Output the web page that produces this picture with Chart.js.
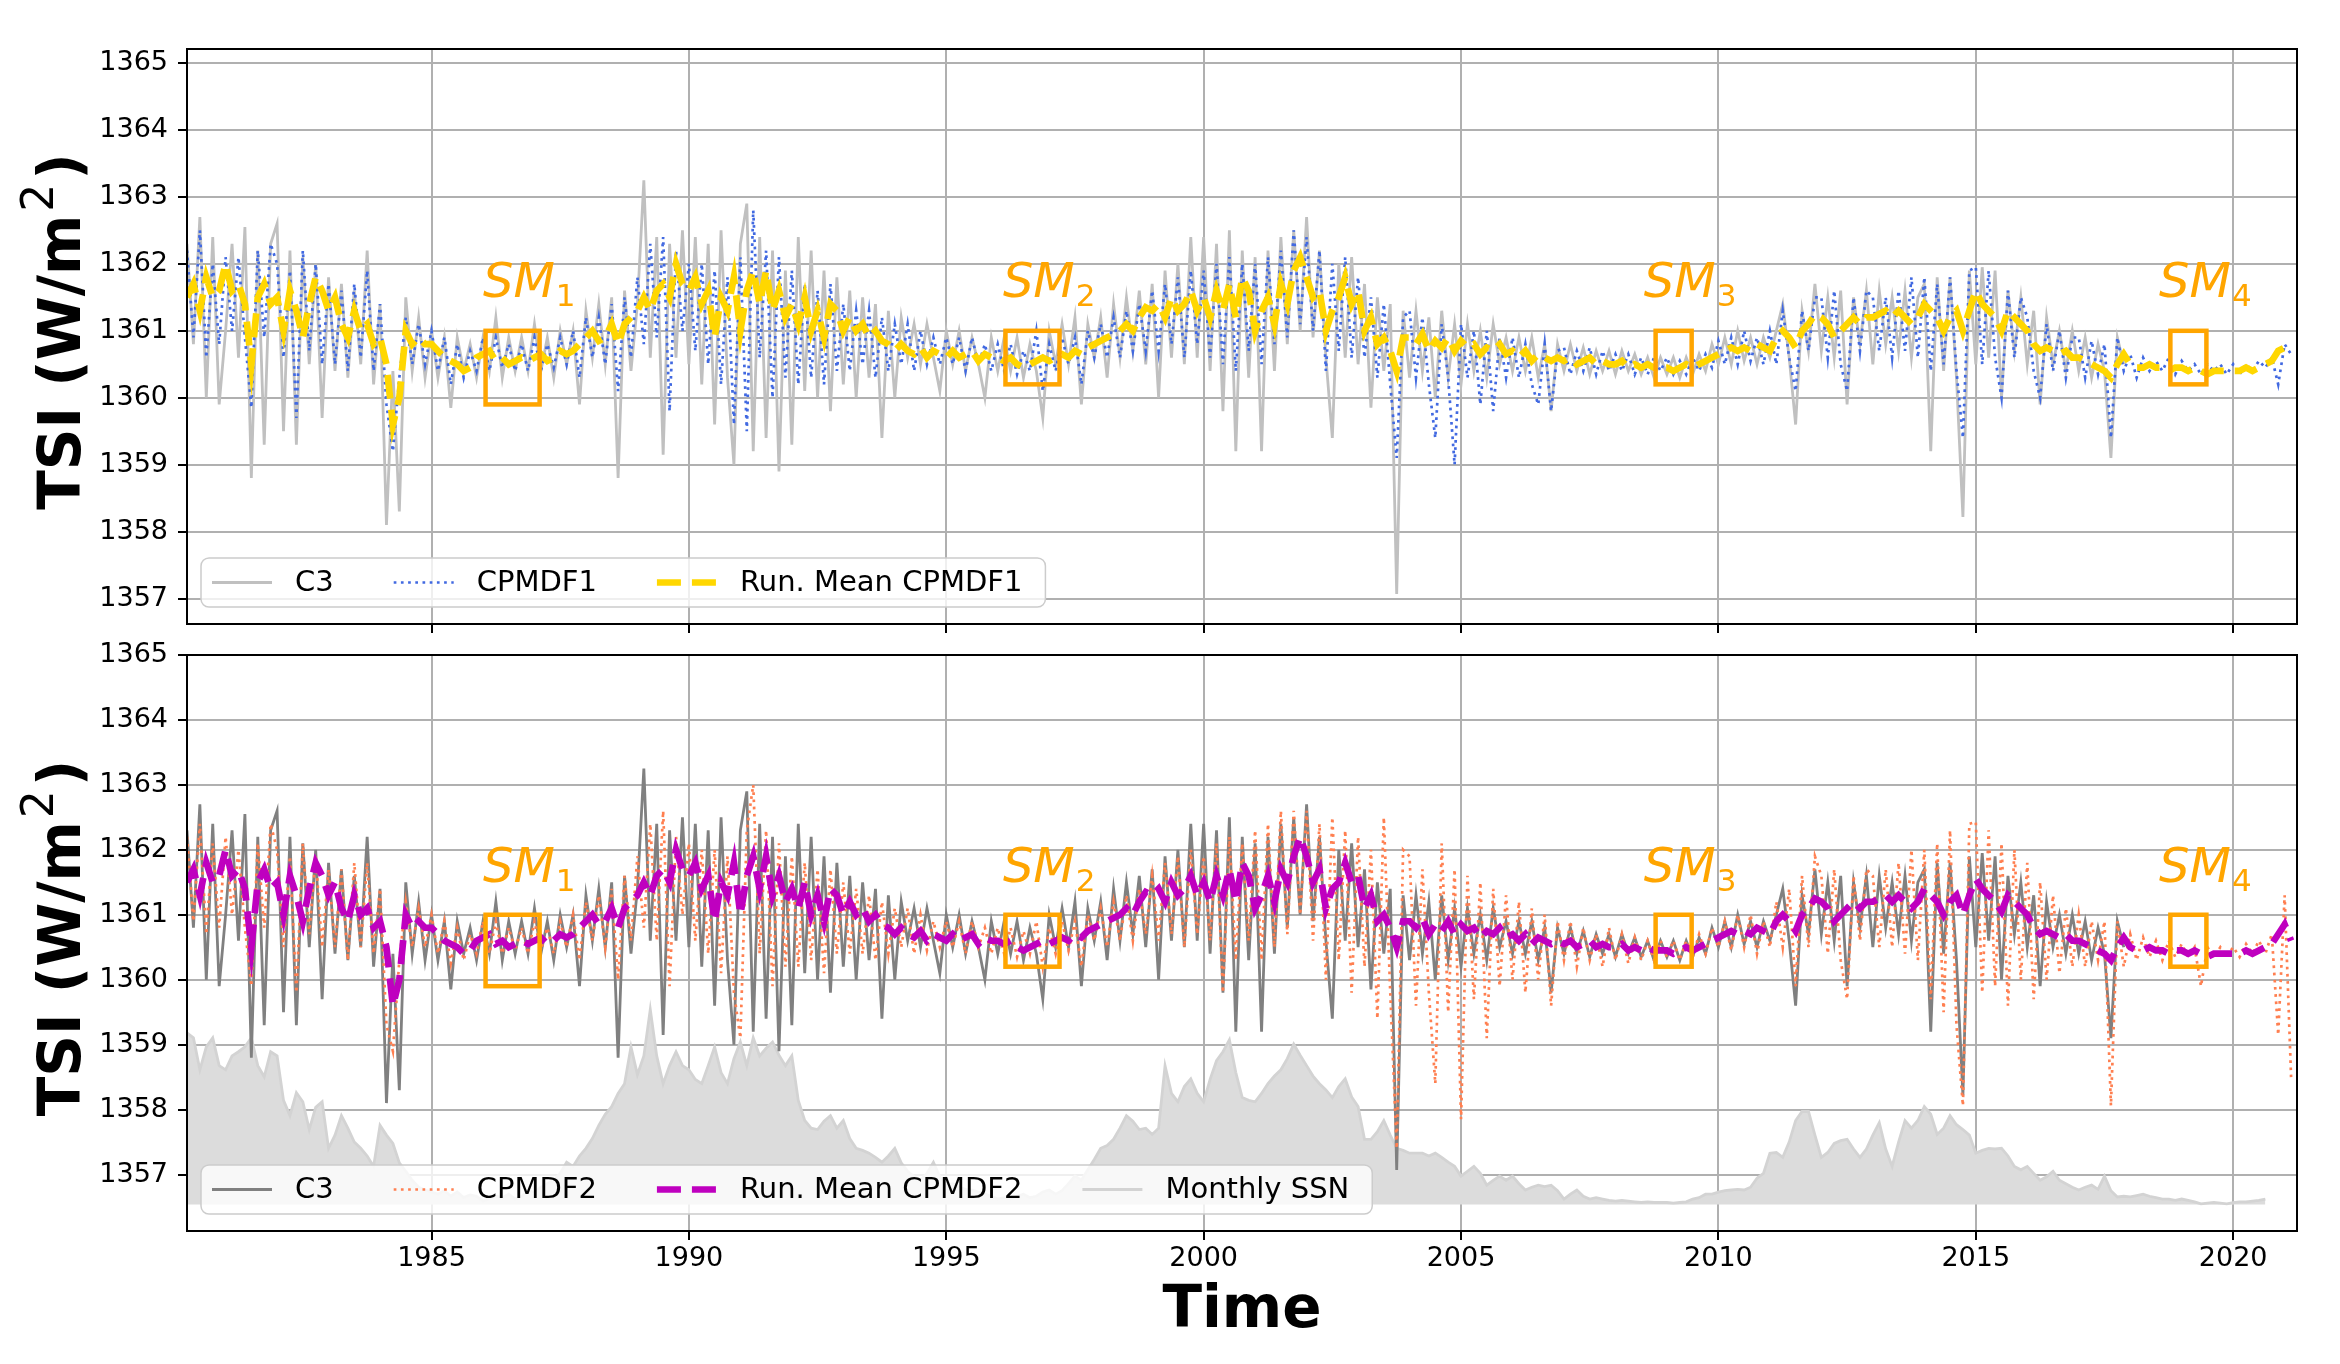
<!DOCTYPE html>
<html>
<head>
<meta charset="utf-8">
<script src="https://cdn.jsdelivr.net/npm/chart.js@4.4.1/dist/chart.umd.min.js"></script>
<style>
  html, body { margin: 0; padding: 0; background: #fff; }
  #wrap { position: relative; width: 2340px; height: 1364px; }
  .panel { position: absolute; left: 0; width: 2340px; }
</style>
</head>
<body>
<div id="wrap">
  <div class="panel" style="top:0;height:649px"><canvas id="topChart"></canvas></div>
  <div class="panel" style="top:630px;height:734px"><canvas id="botChart"></canvas></div>
</div>
<script>
// sampling grid: 8 samples per year from 1980.25
const t0 = 1980.25, dt = 0.125;

const xTicks = [1985, 1990, 1995, 2000, 2005, 2010, 2015, 2020];
const yTicks = [1357, 1358, 1359, 1360, 1361, 1362, 1363, 1364, 1365];

// C3 composite (ends late 2017)
const c3 = [
  1362.3, 1360.8, 1362.7, 1360.0, 1362.4, 1359.9,
  1361.0, 1362.3, 1360.6, 1362.55, 1358.8, 1362.2, 1359.3, 1362.3,
  1362.6, 1359.5, 1362.2, 1359.3, 1362.1, 1360.5, 1362.0, 1359.7,
  1361.8, 1360.4, 1361.7, 1360.3, 1361.6, 1360.5, 1362.2, 1360.2,
  1361.4, 1358.1, 1360.4, 1358.3, 1361.5, 1360.4, 1361.2, 1360.3,
  1361.0, 1360.3, 1360.9, 1359.85, 1360.9, 1360.4, 1360.8, 1360.3,
  1360.9, 1360.4, 1361.2, 1360.3, 1360.9, 1360.4, 1360.9, 1360.4,
  1361.1, 1360.4, 1360.9, 1360.3, 1361.0, 1360.5, 1361.0, 1359.9,
  1361.3, 1360.6, 1361.4, 1360.5, 1361.5, 1358.8, 1361.6, 1360.4,
  1361.4, 1363.25, 1360.6, 1362.4, 1359.15, 1362.3, 1360.6, 1362.5,
  1360.5, 1362.4, 1360.2, 1362.3, 1359.6, 1362.5, 1360.3, 1359.0,
  1362.3, 1362.9, 1359.2, 1362.4, 1359.4, 1362.2, 1358.9, 1361.9,
  1359.3, 1362.4, 1360.1, 1362.2, 1360.0, 1361.9, 1359.8, 1361.8,
  1360.2, 1361.6, 1360.0, 1361.5, 1360.3, 1361.4, 1359.4, 1361.3,
  1360.0, 1361.2, 1360.6, 1361.1, 1360.5, 1361.1, 1360.6, 1360.1,
  1361.0, 1360.5, 1361.0, 1360.4, 1360.9, 1360.5, 1360.0, 1360.9,
  1360.4, 1360.9, 1360.4, 1360.9, 1360.3, 1360.8, 1360.4, 1359.7,
  1361.0, 1360.5, 1361.1, 1360.5, 1361.2, 1359.9, 1361.1, 1360.6,
  1361.2, 1360.3, 1361.4, 1360.6, 1361.5, 1360.7, 1361.6, 1360.5,
  1361.7, 1360.0, 1361.9, 1360.6, 1362.0, 1360.5, 1362.4, 1360.6,
  1362.4, 1360.4, 1362.3, 1359.8, 1362.5, 1359.2, 1362.2, 1360.3,
  1362.1, 1359.2, 1362.2, 1360.4, 1362.4, 1360.8, 1362.5, 1361.0,
  1362.7, 1360.9, 1362.2, 1360.6, 1359.4, 1362.0, 1360.6, 1362.1,
  1360.5, 1361.7, 1359.85, 1361.5, 1360.4, 1361.4, 1357.07, 1361.3,
  1360.3, 1361.3, 1360.4, 1361.2, 1360.0, 1361.3, 1360.3, 1361.1,
  1360.2, 1361.1, 1360.4, 1361.0, 1360.3, 1361.1, 1360.5, 1360.9,
  1360.4, 1360.9, 1360.4, 1360.9, 1360.3, 1360.8, 1359.8, 1360.8,
  1360.4, 1360.8, 1360.4, 1360.75, 1360.35, 1360.7, 1360.4, 1360.7,
  1360.35, 1360.7, 1360.4, 1360.65, 1360.35, 1360.6, 1360.3, 1360.6,
  1360.35, 1360.6, 1360.3, 1360.6, 1360.35, 1360.65, 1360.4, 1360.8,
  1360.5, 1360.9, 1360.5, 1361.0, 1360.55, 1360.9, 1360.5, 1360.9,
  1360.6, 1361.0, 1361.4, 1360.6, 1359.6, 1361.3, 1360.7, 1361.7,
  1360.7, 1361.5, 1360.6, 1361.6, 1359.9, 1361.5, 1360.8, 1361.6,
  1360.5, 1361.6, 1360.8, 1361.5, 1360.7, 1361.6, 1360.6, 1361.5,
  1361.7, 1359.2, 1361.8, 1360.4, 1361.8, 1360.3, 1358.22, 1361.9,
  1360.5, 1361.95, 1360.6, 1361.9, 1360.0, 1361.6, 1360.7, 1361.5,
  1360.5, 1361.3, 1359.9, 1361.2, 1360.5, 1361.0, 1360.4, 1361.0,
  1360.4, 1360.9, 1360.3, 1360.8, 1360.4, 1359.1, 1360.9, 1360.5
];

const cpmdf1 = [
  1362.2, 1360.9, 1362.5, 1360.6, 1362.0, 1360.8,
  1362.1, 1361.0, 1362.1, 1360.9, 1359.85, 1362.2, 1360.9, 1362.3,
  1362.0, 1360.6, 1361.9, 1359.7, 1362.2, 1360.7, 1362.0, 1360.5,
  1361.7, 1360.5, 1361.6, 1360.4, 1361.7, 1360.6, 1361.9, 1360.4,
  1361.4, 1359.9, 1359.2, 1360.3, 1361.2, 1360.5, 1361.1, 1360.5,
  1361.0, 1360.4, 1360.9, 1360.2, 1360.8, 1360.3, 1360.7, 1360.4,
  1360.9, 1360.4, 1360.9, 1360.45, 1360.8, 1360.4, 1360.8, 1360.4,
  1360.9, 1360.4, 1360.8, 1360.45, 1360.9, 1360.5, 1361.0, 1360.3,
  1361.2, 1360.6, 1361.2, 1360.5, 1361.4, 1360.1, 1361.5, 1360.6,
  1361.8, 1360.8, 1362.3, 1360.9, 1362.4, 1359.8, 1362.2, 1361.0,
  1362.0, 1360.7, 1362.0, 1360.5, 1361.9, 1360.2, 1361.8, 1359.6,
  1362.1, 1359.5, 1362.8, 1360.6, 1362.2, 1360.0, 1362.1, 1360.3,
  1361.9, 1360.2, 1361.7, 1360.3, 1361.6, 1360.2, 1361.7, 1360.4,
  1361.4, 1360.4, 1361.3, 1360.5, 1361.3, 1360.3, 1361.2, 1360.4,
  1361.1, 1360.5, 1361.1, 1360.4, 1361.0, 1360.5, 1360.9, 1360.5,
  1360.9, 1360.5, 1360.9, 1360.4, 1360.9, 1360.5, 1360.8, 1360.4,
  1360.8, 1360.4, 1360.8, 1360.35, 1360.7, 1360.4, 1361.0, 1360.1,
  1360.8, 1360.4, 1360.9, 1360.5, 1360.9, 1360.2, 1361.0, 1360.6,
  1361.1, 1360.6, 1361.2, 1360.6, 1361.3, 1360.7, 1361.4, 1360.7,
  1361.6, 1360.7, 1361.7, 1360.8, 1361.8, 1360.6, 1361.9, 1360.8,
  1361.9, 1360.6, 1362.0, 1360.5, 1362.1, 1360.4, 1362.0, 1360.7,
  1362.0, 1360.5, 1362.1, 1360.8, 1362.2, 1360.9, 1362.5, 1361.1,
  1362.4, 1361.0, 1362.2, 1360.4, 1362.0, 1360.7, 1362.1, 1360.6,
  1361.8, 1360.6, 1361.5, 1360.3, 1361.4, 1360.2, 1359.1, 1361.2,
  1361.3, 1360.3, 1361.2, 1360.2, 1359.4, 1361.1, 1360.3, 1359.0,
  1361.1, 1360.3, 1361.0, 1359.9, 1361.0, 1359.8, 1360.9, 1360.3,
  1360.9, 1360.3, 1360.8, 1360.2, 1359.9, 1360.8, 1359.8, 1360.7,
  1360.75, 1360.35, 1360.7, 1360.4, 1360.75, 1360.35, 1360.7, 1360.4,
  1360.65, 1360.4, 1360.65, 1360.35, 1360.6, 1360.35, 1360.6, 1360.4,
  1360.6, 1360.35, 1360.55, 1360.35, 1360.6, 1360.4, 1360.65, 1360.45,
  1360.85, 1360.5, 1360.9, 1360.5, 1361.0, 1360.55, 1360.9, 1360.5,
  1361.0, 1360.5, 1361.3, 1360.6, 1360.1, 1361.3, 1360.7, 1361.5,
  1361.5, 1360.6, 1361.6, 1360.5, 1360.1, 1361.5, 1360.7, 1361.6,
  1361.5, 1360.7, 1361.5, 1360.6, 1361.6, 1360.7, 1361.8, 1360.6,
  1361.8, 1360.4, 1361.7, 1360.5, 1361.8, 1360.4, 1359.4, 1361.9,
  1361.95, 1360.5, 1361.9, 1360.6, 1360.0, 1361.6, 1360.6, 1361.5,
  1361.2, 1360.4, 1360.0, 1361.1, 1360.4, 1361.0, 1360.3, 1360.9,
  1360.9, 1360.3, 1360.85, 1360.35, 1360.8, 1359.4, 1360.9, 1360.4,
  1360.65, 1360.3, 1360.6, 1360.4, 1360.55, 1360.4, 1360.6, 1360.35,
  1360.55, 1360.4, 1360.5, 1360.35, 1360.5, 1360.4, 1360.5, 1360.35,
  1360.5, 1360.35, 1360.5, 1360.4, 1360.55, 1360.45, 1360.6, 1360.2,
  1360.8, 1360.65
];

const runMean1 = [
  1361.5, 1361.7, 1361.3, 1361.8, 1361.5, 1361.6,
  1362.0, 1361.6, 1361.7, 1361.4, 1360.5, 1361.5, 1361.7, 1361.4,
  1361.5, 1361.0, 1361.6, 1361.3, 1360.9, 1361.4, 1361.8, 1361.6,
  1361.3, 1361.5, 1361.1, 1360.9, 1361.3, 1361.0, 1361.1, 1360.8,
  1360.9, 1360.5, 1359.6, 1360.0, 1361.0, 1360.8, 1360.9, 1360.8,
  1360.8, 1360.7, 1360.6, 1360.55, 1360.5, 1360.4, 1360.45, 1360.6,
  1360.65, 1360.7, 1360.55, 1360.6, 1360.5, 1360.55, 1360.6, 1360.55,
  1360.6, 1360.65, 1360.55, 1360.6, 1360.7, 1360.65, 1360.7, 1360.8,
  1360.9, 1361.0, 1360.85, 1360.9, 1361.1, 1360.8, 1361.1, 1361.2,
  1361.3, 1361.5, 1361.3, 1361.6, 1361.7, 1361.5, 1362.0, 1361.7,
  1361.6, 1361.8, 1361.4, 1361.6, 1360.9, 1361.5, 1361.3, 1361.8,
  1361.0, 1361.6, 1361.9, 1361.4, 1361.9, 1361.3, 1361.6, 1361.2,
  1361.4, 1361.1, 1361.5, 1361.0, 1361.3, 1360.9, 1361.4, 1361.3,
  1361.0, 1361.2, 1361.0, 1361.1, 1360.9, 1361.0, 1360.85, 1360.8,
  1360.7, 1360.8, 1360.7, 1360.65, 1360.75, 1360.6, 1360.7, 1360.65,
  1360.6, 1360.7, 1360.6, 1360.65, 1360.7, 1360.55, 1360.65, 1360.6,
  1360.6, 1360.55, 1360.6, 1360.5, 1360.45, 1360.5, 1360.55, 1360.6,
  1360.55, 1360.6, 1360.65, 1360.6, 1360.7, 1360.65, 1360.75, 1360.8,
  1360.85, 1360.9, 1360.95, 1361.0, 1361.1, 1361.0, 1361.2, 1361.35,
  1361.3, 1361.4, 1361.2, 1361.5, 1361.3, 1361.4, 1361.6, 1361.3,
  1361.5, 1361.2, 1361.6, 1361.3, 1361.7, 1361.2, 1361.8, 1361.6,
  1361.0, 1361.3, 1361.5, 1361.1, 1361.7, 1361.4, 1361.9, 1362.1,
  1361.8, 1361.5, 1361.6, 1361.0, 1361.3, 1361.5, 1361.8, 1361.4,
  1361.6, 1361.0, 1361.2, 1360.8, 1360.9, 1360.7, 1360.4, 1360.9,
  1360.9, 1360.8, 1360.95, 1360.7, 1360.85, 1360.75, 1360.9, 1360.7,
  1360.85, 1360.75, 1360.8, 1360.65, 1360.75, 1360.7, 1360.8, 1360.65,
  1360.7, 1360.6, 1360.7, 1360.55, 1360.65, 1360.6, 1360.55, 1360.6,
  1360.55, 1360.6, 1360.5, 1360.55, 1360.6, 1360.5, 1360.55, 1360.5,
  1360.5, 1360.55, 1360.45, 1360.5, 1360.45, 1360.5, 1360.45, 1360.45,
  1360.45, 1360.4, 1360.45, 1360.5, 1360.45, 1360.5, 1360.55, 1360.6,
  1360.65, 1360.7, 1360.75, 1360.7, 1360.75, 1360.7, 1360.8, 1360.75,
  1360.7, 1360.9, 1361.0, 1360.9, 1360.75, 1361.0, 1361.1, 1361.25,
  1361.2, 1361.1, 1360.9, 1361.0, 1361.1, 1361.2, 1361.1, 1361.2,
  1361.2, 1361.25, 1361.3, 1361.2, 1361.3, 1361.2, 1361.1, 1361.2,
  1361.4, 1361.3, 1361.2, 1361.0, 1361.2, 1361.3, 1361.0, 1361.3,
  1361.6, 1361.4, 1361.3, 1361.2, 1361.0, 1361.3, 1361.2, 1361.1,
  1361.0, 1360.8, 1360.7, 1360.75, 1360.7, 1360.65, 1360.7, 1360.6,
  1360.6, 1360.55, 1360.5, 1360.45, 1360.4, 1360.3, 1360.5, 1360.65,
  1360.5, 1360.45, 1360.45, 1360.5, 1360.45, 1360.45, 1360.4, 1360.45,
  1360.45, 1360.4, 1360.45, 1360.4, 1360.35, 1360.4, 1360.4, 1360.4,
  1360.4, 1360.4, 1360.45, 1360.4, 1360.45, 1360.5, 1360.55, 1360.7,
  1360.75, 1360.65
];

const cpmdf2 = [
  1362.2, 1360.9, 1362.4, 1360.7, 1362.1, 1360.8,
  1362.2, 1361.0, 1362.0, 1360.8, 1359.9, 1362.1, 1360.8, 1362.4,
  1362.0, 1360.5, 1361.9, 1359.8, 1362.1, 1360.7, 1361.9, 1360.5,
  1361.7, 1360.5, 1361.7, 1360.3, 1361.8, 1360.5, 1361.8, 1360.4,
  1361.4, 1359.3, 1358.9, 1360.3, 1361.2, 1360.5, 1361.1, 1360.5,
  1361.0, 1360.4, 1360.9, 1360.25, 1360.8, 1360.3, 1360.7, 1360.4,
  1360.9, 1360.4, 1360.9, 1360.4, 1360.8, 1360.45, 1360.8, 1360.4,
  1360.9, 1360.45, 1360.8, 1360.4, 1360.9, 1360.5, 1361.0, 1360.3,
  1361.2, 1360.6, 1361.3, 1360.5, 1361.4, 1360.0, 1361.6, 1360.6,
  1361.9, 1360.8, 1362.4, 1360.6, 1362.6, 1359.9, 1362.2, 1361.0,
  1362.1, 1360.6, 1362.0, 1360.4, 1362.0, 1360.1, 1361.9, 1359.8,
  1359.1, 1362.3, 1363.0, 1360.4, 1362.3, 1359.9, 1362.1, 1360.2,
  1361.9, 1360.2, 1361.8, 1360.3, 1361.7, 1360.1, 1361.7, 1360.4,
  1361.5, 1360.4, 1361.4, 1360.4, 1361.3, 1360.3, 1361.2, 1360.4,
  1361.1, 1360.5, 1361.1, 1360.4, 1361.0, 1360.45, 1360.9, 1360.5,
  1360.9, 1360.5, 1360.9, 1360.4, 1360.9, 1360.5, 1360.8, 1360.4,
  1360.8, 1360.4, 1360.8, 1360.35, 1360.75, 1360.4, 1360.9, 1360.2,
  1360.8, 1360.4, 1360.9, 1360.45, 1360.9, 1360.2, 1361.0, 1360.6,
  1361.1, 1360.5, 1361.2, 1360.6, 1361.3, 1360.6, 1361.4, 1360.7,
  1361.6, 1360.6, 1361.8, 1360.7, 1361.9, 1360.5, 1362.0, 1360.7,
  1361.9, 1360.6, 1362.1, 1359.8, 1362.2, 1360.3, 1362.1, 1360.6,
  1362.3, 1360.3, 1362.4, 1360.5, 1362.6, 1360.7, 1362.6, 1361.0,
  1362.6, 1360.6, 1362.4, 1360.0, 1362.5, 1360.3, 1362.3, 1359.8,
  1362.2, 1360.2, 1362.0, 1359.4, 1362.5, 1359.8, 1357.4, 1362.0,
  1361.9, 1359.6, 1361.7, 1359.8, 1358.4, 1362.1, 1359.5, 1361.7,
  1357.85, 1361.6, 1359.7, 1361.5, 1359.1, 1361.4, 1359.9, 1361.3,
  1360.0, 1361.2, 1359.8, 1361.1, 1360.0, 1361.0, 1359.6, 1360.9,
  1360.3, 1360.9, 1360.2, 1360.8, 1360.3, 1360.7, 1360.2, 1360.8,
  1360.3, 1360.7, 1360.25, 1360.65, 1360.3, 1360.6, 1360.3, 1360.6,
  1360.35, 1360.6, 1360.3, 1360.6, 1360.35, 1360.7, 1360.4, 1360.8,
  1360.5, 1360.9, 1360.45, 1361.0, 1360.5, 1361.0, 1360.4, 1360.9,
  1360.5, 1361.2, 1360.5, 1361.4, 1359.9, 1361.6, 1360.5, 1361.9,
  1361.6, 1360.4, 1361.7, 1360.3, 1359.7, 1361.6, 1360.6, 1361.7,
  1361.6, 1360.5, 1361.7, 1360.5, 1361.8, 1360.4, 1362.0, 1360.3,
  1362.0, 1359.7, 1362.1, 1359.5, 1362.3, 1359.3, 1358.06, 1362.4,
  1362.43, 1359.8, 1362.3, 1359.9, 1362.1, 1359.6, 1362.0, 1360.0,
  1361.8, 1359.7, 1361.5, 1360.0, 1361.3, 1360.1, 1361.1, 1360.2,
  1361.0, 1360.2, 1360.9, 1360.3, 1360.9, 1358.06, 1360.9, 1360.2,
  1360.7, 1360.3, 1360.65, 1360.35, 1360.6, 1360.3, 1360.6, 1360.35,
  1360.55, 1360.35, 1360.5, 1359.9, 1360.5, 1360.35, 1360.5, 1360.35,
  1360.5, 1360.35, 1360.55, 1360.4, 1360.6, 1360.4, 1360.7, 1359.15,
  1361.3, 1358.5
];

const runMean2 = [
  1361.5, 1361.7, 1361.3, 1361.8, 1361.5, 1361.6,
  1362.0, 1361.6, 1361.7, 1361.4, 1360.5, 1361.5, 1361.7, 1361.4,
  1361.5, 1361.0, 1361.6, 1361.3, 1360.9, 1361.4, 1361.8, 1361.6,
  1361.3, 1361.5, 1361.1, 1360.9, 1361.3, 1361.0, 1361.1, 1360.8,
  1360.9, 1360.5, 1359.6, 1360.0, 1361.0, 1360.8, 1360.9, 1360.8,
  1360.8, 1360.7, 1360.6, 1360.55, 1360.5, 1360.4, 1360.45, 1360.6,
  1360.65, 1360.7, 1360.55, 1360.6, 1360.5, 1360.55, 1360.6, 1360.55,
  1360.6, 1360.65, 1360.55, 1360.6, 1360.7, 1360.65, 1360.7, 1360.8,
  1360.9, 1361.0, 1360.85, 1360.9, 1361.1, 1360.8, 1361.1, 1361.2,
  1361.3, 1361.5, 1361.3, 1361.6, 1361.7, 1361.5, 1362.0, 1361.7,
  1361.6, 1361.8, 1361.4, 1361.6, 1360.9, 1361.5, 1361.3, 1361.8,
  1361.0, 1361.6, 1361.9, 1361.4, 1361.9, 1361.3, 1361.6, 1361.2,
  1361.4, 1361.1, 1361.5, 1361.0, 1361.3, 1360.9, 1361.4, 1361.3,
  1361.0, 1361.2, 1361.0, 1361.1, 1360.9, 1361.0, 1360.85, 1360.8,
  1360.7, 1360.8, 1360.7, 1360.65, 1360.75, 1360.6, 1360.7, 1360.65,
  1360.6, 1360.7, 1360.6, 1360.65, 1360.7, 1360.55, 1360.65, 1360.6,
  1360.6, 1360.55, 1360.6, 1360.5, 1360.45, 1360.5, 1360.55, 1360.6,
  1360.55, 1360.6, 1360.65, 1360.6, 1360.7, 1360.65, 1360.75, 1360.8,
  1360.85, 1360.9, 1360.95, 1361.0, 1361.1, 1361.0, 1361.2, 1361.35,
  1361.3, 1361.4, 1361.2, 1361.5, 1361.3, 1361.4, 1361.6, 1361.3,
  1361.5, 1361.2, 1361.6, 1361.3, 1361.7, 1361.2, 1361.8, 1361.6,
  1361.1, 1361.3, 1361.6, 1361.2, 1361.7, 1361.5, 1361.9, 1362.2,
  1361.9, 1361.5, 1361.7, 1361.1, 1361.4, 1361.5, 1361.8, 1361.5,
  1361.6, 1361.1, 1361.3, 1360.9, 1361.0, 1360.8, 1360.5, 1360.9,
  1360.9, 1360.8, 1360.95, 1360.7, 1360.85, 1360.75, 1360.9, 1360.7,
  1360.85, 1360.75, 1360.8, 1360.65, 1360.75, 1360.7, 1360.8, 1360.65,
  1360.7, 1360.6, 1360.7, 1360.55, 1360.65, 1360.6, 1360.55, 1360.6,
  1360.55, 1360.6, 1360.5, 1360.55, 1360.6, 1360.5, 1360.55, 1360.5,
  1360.5, 1360.55, 1360.45, 1360.5, 1360.45, 1360.5, 1360.45, 1360.45,
  1360.45, 1360.4, 1360.45, 1360.5, 1360.45, 1360.5, 1360.55, 1360.6,
  1360.65, 1360.7, 1360.75, 1360.7, 1360.75, 1360.7, 1360.8, 1360.75,
  1360.7, 1360.9, 1361.0, 1360.9, 1360.75, 1361.0, 1361.1, 1361.25,
  1361.2, 1361.1, 1360.9, 1361.0, 1361.1, 1361.2, 1361.1, 1361.2,
  1361.2, 1361.25, 1361.3, 1361.2, 1361.3, 1361.2, 1361.1, 1361.2,
  1361.4, 1361.3, 1361.2, 1361.0, 1361.2, 1361.3, 1361.0, 1361.3,
  1361.55, 1361.4, 1361.3, 1361.2, 1361.05, 1361.3, 1361.2, 1361.1,
  1361.0, 1360.8, 1360.7, 1360.75, 1360.7, 1360.65, 1360.7, 1360.6,
  1360.6, 1360.55, 1360.5, 1360.45, 1360.4, 1360.3, 1360.5, 1360.65,
  1360.5, 1360.45, 1360.45, 1360.5, 1360.45, 1360.45, 1360.4, 1360.45,
  1360.45, 1360.4, 1360.45, 1360.4, 1360.35, 1360.4, 1360.4, 1360.4,
  1360.4, 1360.4, 1360.45, 1360.4, 1360.45, 1360.5, 1360.55, 1360.7,
  1360.85, 1360.6
];

// monthly sunspot number (ends mid 2020)
const ssn = [
  247, 240, 194, 227, 240, 200,
  194, 214, 220, 227, 240, 200, 184, 220,
  214, 150, 128, 161, 148, 108, 140, 148,
  81, 100, 128, 110, 90, 81, 70, 55,
  114, 100, 88, 60, 48, 35, 25, 21,
  18, 15, 20, 12, 18, 10, 14, 12,
  5, 8, 12, 10, 15, 8, 12, 20,
  18, 25, 30, 35, 45, 61, 55, 70,
  81, 95, 114, 130, 141, 160, 174, 227,
  187, 214, 281, 214, 174, 200, 220, 200,
  194, 180, 174, 200, 227, 190, 174, 210,
  234, 200, 240, 214, 225, 234, 215, 200,
  214, 150, 121, 110, 108, 120, 128, 110,
  121, 95, 81, 78, 74, 68, 61, 70,
  81, 60, 48, 40, 35, 45, 61, 40,
  28, 30, 25, 22, 21, 18, 15, 12,
  8, 10, 8, 12, 15, 10, 12, 18,
  21, 15, 20, 30, 41, 35, 50, 65,
  81, 85, 94, 110, 128, 120, 108, 110,
  101, 110, 200, 160, 148, 170, 181, 160,
  148, 180, 207, 220, 237, 190, 154, 150,
  148, 160, 174, 185, 194, 210, 231, 215,
  200, 185, 174, 165, 154, 170, 181, 155,
  141, 94, 94, 105, 121, 100, 81, 78,
  74, 74, 74, 70, 74, 68, 61, 55,
  41, 48, 55, 45, 28, 35, 41, 35,
  41, 30, 21, 25, 28, 26, 28, 20,
  8, 15, 21, 12, 8, 10, 8, 6,
  5, 6, 5, 4, 3, 4, 3, 3,
  3, 2, 3, 4, 8, 10, 15, 15,
  18, 20, 21, 22, 21, 25, 38, 45,
  74, 75, 68, 90, 121, 134, 134, 100,
  68, 75, 88, 92, 94, 80, 68, 80,
  100, 118, 80, 55, 90, 121, 110, 121,
  141, 130, 101, 110, 128, 115, 108, 100,
  74, 78, 81, 80, 81, 70, 55, 50,
  55, 45, 35, 40, 48, 35, 30, 25,
  21, 25, 28, 22, 41, 20, 11, 12,
  11, 13, 15, 12, 10, 8, 8, 6,
  8, 6, 4, 1, 2, 3, 2, 1,
  3, 4, 4, 5, 6, 8
];

// solar minimum boxes
const smSub = ['1', '2', '3', '4'];
const smX0 = [1986.05, 1996.15, 2008.78, 2018.78];
const smX1 = [1987.1, 1997.2, 2009.48, 2019.48];
const smLow = [1359.9, 1360.2, 1360.2, 1360.2];
const smHigh = [1361.0, 1361.0, 1361.0, 1361.0];
const smLabelX = [1986.0, 1996.1, 2008.55, 2018.56];
const smLabelY = 1361.5;

const FONT = '"DejaVu Sans", sans-serif';
Chart.defaults.font.family = FONT;
Chart.defaults.color = '#000';

const pts = arr => arr.map((v, i) => ({ x: t0 + i * dt, y: v }));

const frame = {
  id: 'frame',
  afterDatasetsDraw(chart) {
    const { ctx, chartArea: a } = chart;
    ctx.save();
    ctx.strokeStyle = '#000';
    ctx.lineWidth = 2;
    ctx.strokeRect(a.left, a.top, a.right - a.left, a.bottom - a.top);
    ctx.restore();
  }
};

// rotated y title with a real superscript, like matplotlib mathtext
const yTitle = {
  id: 'yTitle',
  afterDraw(chart) {
    const { ctx, chartArea: a } = chart;
    const main = 'TSI (W/m', sup = '2', close = ')';
    const bold = 'bold 58px ' + FONT, supFont = '44px ' + FONT;
    ctx.save();
    ctx.font = bold;
    const w1 = ctx.measureText(main).width, w3 = ctx.measureText(close).width;
    ctx.font = supFont;
    const w2 = ctx.measureText(sup).width;
    const total = w1 + 3 + w2 + 4 + w3;
    ctx.translate(80, (a.top + a.bottom) / 2 - 5);
    ctx.rotate(-Math.PI / 2);
    ctx.fillStyle = '#000';
    ctx.textAlign = 'left';
    ctx.textBaseline = 'alphabetic';
    let x = -total / 2;
    ctx.font = bold;
    ctx.fillText(main, x, 0);
    x += w1 + 3;
    ctx.font = supFont;
    ctx.fillText(sup, x, -27);
    x += w2 + 4;
    ctx.font = bold;
    ctx.fillText(close, x, 0);
    ctx.restore();
  }
};

const smMarks = {
  id: 'smMarks',
  afterDatasetsDraw(chart) {
    const { ctx } = chart;
    const xs = chart.scales.x, ys = chart.scales.y;
    ctx.save();
    ctx.strokeStyle = '#ffa500';
    ctx.fillStyle = '#ffa500';
    ctx.lineWidth = 4.5;
    smX0.forEach((x0, i) => {
      const l = xs.getPixelForValue(x0), r = xs.getPixelForValue(smX1[i]);
      const t = ys.getPixelForValue(smHigh[i]), b = ys.getPixelForValue(smLow[i]);
      ctx.strokeRect(l, t, r - l, b - t);
      const lx = xs.getPixelForValue(smLabelX[i]), ly = ys.getPixelForValue(smLabelY);
      ctx.textAlign = 'left';
      ctx.textBaseline = 'alphabetic';
      ctx.font = 'italic 48px ' + FONT;
      ctx.fillText('SM', lx, ly);
      const w = ctx.measureText('SM').width;
      ctx.font = '31px ' + FONT;
      ctx.fillText(smSub[i], lx + w + 1, ly + 9);
    });
    ctx.restore();
  }
};

const boxLegend = {
  id: 'boxLegend',
  afterDraw(chart) {
    const { ctx, chartArea: a } = chart;
    const sets = chart.data.datasets;
    ctx.save();
    ctx.font = '29px ' + FONT;
    const sample = 60, gap = 23, colGap = 60, padL = 11, padR = 23, h = 49;
    let w = padL + padR;
    sets.forEach((d, i) => {
      w += sample + gap + ctx.measureText(d.label).width + (i < sets.length - 1 ? colGap : 0);
    });
    const x = a.left + 14, y = a.bottom - 17 - h;
    ctx.beginPath();
    ctx.roundRect(x, y, w, h, 8);
    ctx.fillStyle = 'rgba(255,255,255,0.8)';
    ctx.fill();
    ctx.strokeStyle = '#cccccc';
    ctx.lineWidth = 1.5;
    ctx.stroke();
    let cx = x + padL;
    const cy = y + h / 2;
    sets.forEach(d => {
      ctx.beginPath();
      ctx.setLineDash(d.borderDash || []);
      ctx.lineCap = 'butt';
      ctx.strokeStyle = d.borderColor;
      ctx.lineWidth = d.borderWidth;
      ctx.moveTo(cx, cy);
      ctx.lineTo(cx + sample, cy);
      ctx.stroke();
      ctx.setLineDash([]);
      cx += sample + gap;
      ctx.fillStyle = '#000';
      ctx.textAlign = 'left';
      ctx.textBaseline = 'middle';
      ctx.fillText(d.label, cx, cy + 1);
      cx += ctx.measureText(d.label).width + colGap;
    });
    ctx.restore();
  }
};

function line(label, data, color, width, dash, order, extra) {
  return Object.assign({
    label, data: pts(data), borderColor: color, backgroundColor: color,
    borderWidth: width, borderDash: dash, borderCapStyle: 'butt',
    pointRadius: 0, tension: 0, fill: false, order, spanGaps: false
  }, extra || {});
}

function xScale(showLabels, h) {
  return {
    type: 'linear', min: 1980.25, max: 2021.24,
    afterBuildTicks: s => { s.ticks = xTicks.map(v => ({ value: v })); },
    afterFit: s => { s.height = h; },
    grid: { color: '#b0b0b0', lineWidth: 2, tickColor: '#000', tickLength: 9, tickWidth: 2 },
    border: { display: false },
    ticks: { display: showLabels, padding: 4, maxRotation: 0, font: { size: 27, lineHeight: 1.1 }, callback: v => String(v) },
    title: showLabels
      ? { display: true, text: 'Time', font: { size: 58, weight: 'bold' }, padding: { top: 0, bottom: 17 } }
      : { display: false }
  };
}

function yScale(min, max) {
  return {
    type: 'linear', position: 'left', min, max,
    afterBuildTicks: s => { s.ticks = yTicks.map(v => ({ value: v })); },
    afterFit: s => { s.width = 187; },
    grid: { color: '#b0b0b0', lineWidth: 2, tickColor: '#000', tickLength: 9, tickWidth: 2 },
    border: { display: false },
    ticks: { padding: 10, font: { size: 27, lineHeight: 1.1 }, callback: v => String(v) },
    title: { display: false }
  };
}

const common = {
  responsive: true, maintainAspectRatio: false, animation: false, devicePixelRatio: 1,
  events: [],
  plugins: { legend: { display: false }, tooltip: { enabled: false } }
};

new Chart(document.getElementById('topChart'), {
  type: 'line',
  data: {
    datasets: [
      line('C3', c3, '#c0c0c0', 2.8, [], 2),
      line('CPMDF1', cpmdf1, '#4169e1', 2.7, [2.7, 4.5], 1),
      line('Run. Mean CPMDF1', runMean1, '#ffd700', 6.7, [24, 11], 0)
    ]
  },
  options: Object.assign({}, common, {
    layout: { padding: { top: 49, right: 43, bottom: 0, left: 0 } },
    scales: { x: xScale(false, 25), y: yScale(1356.62, 1365.21) }
  }),
  plugins: [frame, smMarks, boxLegend, yTitle]
});

new Chart(document.getElementById('botChart'), {
  type: 'line',
  data: {
    datasets: [
      line('C3', c3, '#808080', 2.8, [], 2),
      line('CPMDF2', cpmdf2, '#ff7f50', 2.7, [2.7, 4.5], 1),
      line('Run. Mean CPMDF2', runMean2, '#bf00bf', 6.7, [24, 11], 0),
      line('Monthly SSN', ssn, '#d3d3d3', 2.8, [], 3,
        { yAxisID: 'ySSN', fill: 'origin', backgroundColor: '#dcdcdc' })
    ]
  },
  options: Object.assign({}, common, {
    layout: { padding: { top: 25, right: 43, bottom: 0, left: 0 } },
    scales: {
      x: xScale(true, 133),
      y: yScale(1356.13, 1365.0),
      ySSN: { type: 'linear', display: false, min: -38, max: 791, grid: { display: false } }
    }
  }),
  plugins: [frame, smMarks, boxLegend, yTitle]
});
</script>
</body>
</html>
